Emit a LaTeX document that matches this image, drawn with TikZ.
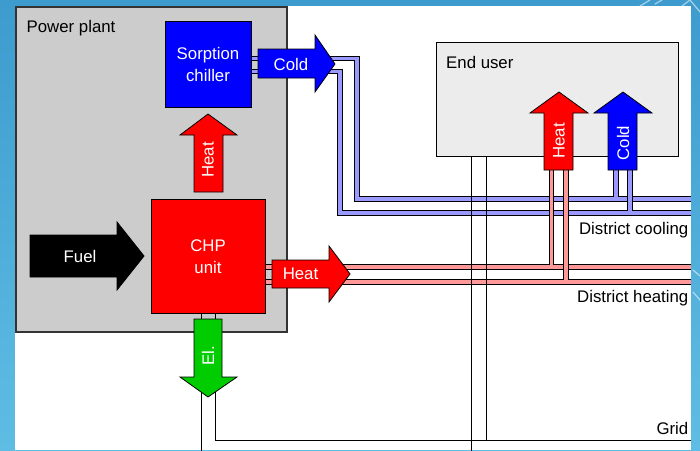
\documentclass[tikz,border=0pt]{standalone}
\usepackage{fontspec}
\setmainfont{Liberation Sans}
\definecolor{bgblue}{HTML}{3D9BCE}
\definecolor{bgblue2}{HTML}{5FBDE4}
\definecolor{plantgray}{HTML}{CCCCCC}
\definecolor{usergray}{HTML}{ECECEC}
\definecolor{coolpipe}{HTML}{9999FF}
\definecolor{heatpipe}{HTML}{FF9999}
\definecolor{elgreen}{HTML}{00CC00}
\begin{document}
\begin{tikzpicture}[x=1pt,y=-1pt,
  lbl/.style={font=\fontsize{16.8}{21.5}\selectfont, inner sep=0pt},
  wlbl/.style={lbl, text=white, align=center},
  boxnode/.style={draw=black, line width=1pt, inner sep=0pt},
  arr/.style={draw=black, line width=0.8pt, line join=miter},
  coolp/.style={draw=black, double=coolpipe, double distance=3.4pt, line width=1.2pt, line join=miter},
  heatp/.style={draw=black, double=heatpipe, double distance=3.4pt, line width=1.2pt, line join=miter},
  gridl/.style={draw=black, line width=1pt},
  deco/.style={draw=white, line width=1.2pt, opacity=0.55, line cap=round}]
\useasboundingbox (0,0) rectangle (700,450);
% background
\shade[top color=bgblue, bottom color=bgblue2] (0,0) rectangle (700,450);
\fill[white] (15,6) rectangle (691,450);
% containers
\node[draw=black!80, fill=plantgray, line width=1.3pt, minimum width=271pt, minimum height=325pt, inner sep=0pt] (plant) at (151.5,169.5) {};
\node[lbl, anchor=base west] (plantlbl) at (26.5,32) {Power plant};
\node[boxnode, fill=usergray, minimum width=242pt, minimum height=114pt] (user) at (557,99) {};
\node[lbl, anchor=base west] (userlbl) at (446,68) {End user};
% cooling pipes
\coordinate (c1s) at (251,58.5); \coordinate (c1e) at (692,199);
\coordinate (c2s) at (251,71.5); \coordinate (c2e) at (692,213);
\draw[coolp] (c1s) -- (357,58.5) -- (357,199) -- (c1e) (616,168) -- (616,199);
\draw[coolp] (c2s) -- (340,71.5) -- (340,213) -- (c2e) (630,168) -- (630,213);
% heating pipes
\coordinate (h1s) at (265,267); \coordinate (h1e) at (692,267);
\coordinate (h2s) at (265,282); \coordinate (h2e) at (692,282);
\draw[heatp] (h1s) -- (h1e) (551.5,168) -- (551.5,267);
\draw[heatp] (h2s) -- (h2e) (566,168) -- (566,282);
% grid lines
\draw[gridl] (201,313) -- (201,452);
\draw[gridl] (215,313) -- (215,440) -- (692,440);
\draw[gridl] (471,156) -- (471,452);
\draw[gridl] (486,156) -- (486,440);
% units
\node[boxnode, fill=blue, minimum width=86pt, minimum height=86pt] (chiller) at (208,64) {};
\node[wlbl] (chillerlbl) at (208,64.5) {Sorption\\chiller};
\node[boxnode, fill=red, minimum width=114pt, minimum height=114pt] (chp) at (208,256) {};
\node[wlbl] (chplbl) at (208,256.5) {CHP\\unit};
% arrows
\draw[arr, fill=black] (30,235) -- (117,235) -- (117,222) -- (144,256) -- (117,290) -- (117,277) -- (30,277) -- cycle;
\node[wlbl] (fuel) at (80,256) {Fuel};
\draw[arr, fill=red] (194,192) -- (194,135) -- (180,135) -- (208,114) -- (237,135) -- (223,135) -- (223,192) -- cycle;
\node[wlbl, rotate=90] (heatup) at (208,160) {Heat};
\draw[arr, fill=red] (272,260) -- (329,260) -- (329,246) -- (350,274) -- (329,302) -- (329,288) -- (272,288) -- cycle;
\node[wlbl] (heatright) at (300.5,274) {Heat};
\draw[arr, fill=elgreen] (194,319) -- (222,319) -- (222,377) -- (237,377) -- (208,397) -- (180,377) -- (194,377) -- cycle;
\node[wlbl, rotate=90] (el) at (208,356) {El.};
\draw[arr, fill=blue] (258,49) -- (315,49) -- (315,35) -- (335,64) -- (315,92) -- (315,78) -- (258,78) -- cycle;
\node[wlbl] (cold) at (291,64) {Cold};
\draw[arr, fill=red] (544,170) -- (544,113) -- (530,113) -- (559,92) -- (588,113) -- (573,113) -- (573,170) -- cycle;
\node[wlbl, rotate=90] (uheat) at (559,141) {Heat};
\draw[arr, fill=blue] (608,170) -- (608,113) -- (594,113) -- (623,92) -- (652,113) -- (637,113) -- (637,170) -- cycle;
\node[wlbl, rotate=90] (ucold) at (623,143) {Cold};
% network labels
\node[lbl, anchor=base east] (dc) at (688.5,234) {District cooling};
\node[lbl, anchor=base east] (dh) at (688.5,302) {District heating};
\node[lbl, anchor=base east] (grid) at (688.5,434) {Grid};
% right strip
\shade[top color=bgblue, bottom color=bgblue2] (691,0) rectangle (700,450);
\draw[deco] (640,6) -- (650,0);
\draw[deco] (655,4) -- (662,0);
\draw[deco] (682,6) -- (690,0) (690,0) -- (700,12);
\draw[deco] (693,270) -- (700,276);
\draw[deco] (693,292) -- (700,300);
\end{tikzpicture}
\end{document}
